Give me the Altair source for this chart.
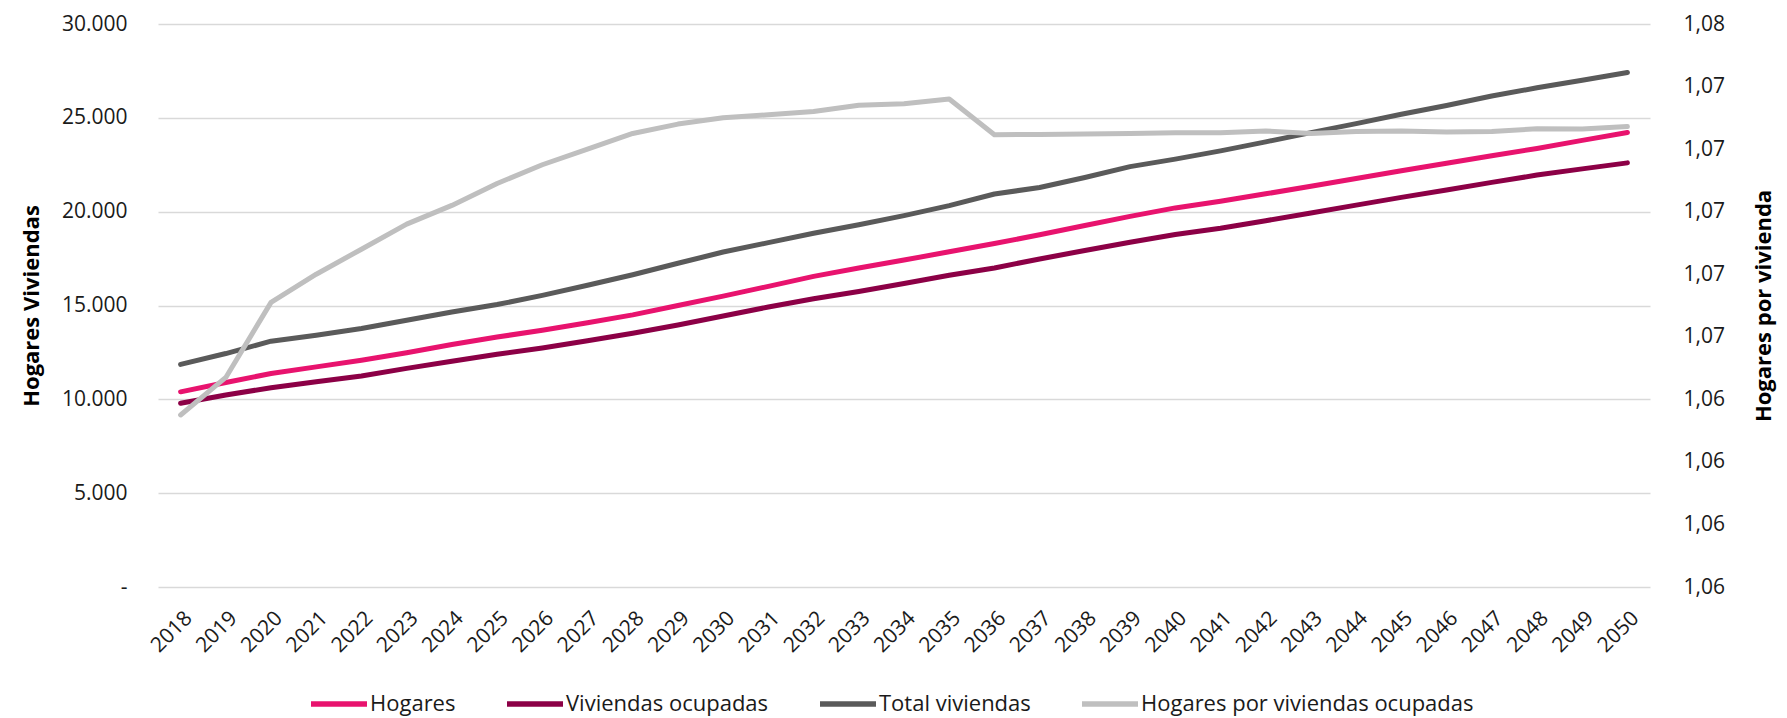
import altair as alt
import pandas as pd

years = ["2018", "2019", "2020", "2021", "2022", "2023", "2024", "2025", "2026", "2027",
         "2028", "2029", "2030", "2031", "2032", "2033", "2034", "2035", "2036", "2037",
         "2038", "2039", "2040", "2041", "2042", "2043", "2044", "2045", "2046", "2047",
         "2048", "2049", "2050"]

hogares = [10400, 10900, 11380, 11730, 12080, 12480, 12920, 13320, 13680, 14080,
           14500, 15000, 15500, 16020, 16550, 17000, 17420, 17860, 18300, 18770,
           19260, 19750, 20200, 20560, 20950, 21350, 21770, 22180, 22580, 22980,
           23370, 23800, 24220]

viviendas_ocupadas = [9790, 10230, 10620, 10940, 11240, 11650, 12030, 12400, 12740, 13120,
                      13520, 13960, 14440, 14920, 15360, 15750, 16170, 16610, 17000, 17480,
                      17930, 18370, 18780, 19120, 19520, 19930, 20350, 20760, 21150, 21560,
                      21950, 22280, 22600]

total_viviendas = [11860, 12440, 13100, 13420, 13770, 14210, 14650, 15050, 15540, 16080,
                   16640, 17250, 17850, 18350, 18850, 19300, 19790, 20320, 20940, 21290,
                   21820, 22400, 22800, 23240, 23720, 24210, 24690, 25190, 25660, 26160,
                   26600, 27000, 27420]

hogares_por_vivienda = [1.0635, 1.0647, 1.0671, 1.0680, 1.0688, 1.0696, 1.0702, 1.0709, 1.0715, 1.0720,
                        1.0725, 1.0728, 1.0730, 1.0731, 1.0732, 1.0734, 1.07345, 1.0736, 1.07246, 1.07247,
                        1.07248, 1.0725, 1.07252, 1.07252, 1.07258, 1.0725, 1.07256, 1.07258, 1.07255, 1.07256,
                        1.07265, 1.07264, 1.07272]

series_names = ["Hogares", "Viviendas ocupadas", "Total viviendas", "Hogares por viviendas ocupadas"]
series_colors = ["#E8136E", "#8C0046", "#5A5A5A", "#BFBFBF"]

left_ticks = [0, 5000, 10000, 15000, 20000, 25000, 30000]
right_ticks = [1.058, 1.060, 1.062, 1.064, 1.066, 1.068, 1.070, 1.072, 1.074, 1.076]

left_df = pd.DataFrame({
    "Año": years,
    "Hogares": hogares,
    "Viviendas ocupadas": viviendas_ocupadas,
    "Total viviendas": total_viviendas,
})
long_df = left_df.melt(id_vars="Año", var_name="Serie", value_name="Valor")
ratio_df = pd.DataFrame({"Año": years, "Serie": "Hogares por viviendas ocupadas",
                         "Ratio": hogares_por_vivienda})

FONT = "Open Sans"
LBL = 21

color = alt.Color(
    "Serie:N",
    scale=alt.Scale(domain=series_names, range=series_colors),
    sort=series_names,
    legend=alt.Legend(
        title=None, orient="none", direction="horizontal",
        legendX=150, legendY=649,
        symbolType="stroke", symbolStrokeWidth=5.5, symbolSize=3136,
        labelFont=FONT, labelFontSize=22, labelColor="#1a1a1a",
        labelOffset=0, columnPadding=40, labelLimit=500, padding=0,
    ),
)

x = alt.X(
    "Año:O", sort=years, title=None,
    axis=alt.Axis(labelAngle=-45, labelFont=FONT, labelFontSize=LBL, labelColor="#1a1a1a",
                  ticks=False, tickSize=0, domain=False, grid=False, labelPadding=20),
)

left = alt.Chart(long_df).mark_line(strokeWidth=5, strokeCap="round", strokeJoin="round").encode(
    x=x,
    y=alt.Y(
        "Valor:Q",
        scale=alt.Scale(domain=[0, 30000], nice=False, zero=True),
        axis=alt.Axis(
            orient="left", values=left_ticks,
            labelExpr="datum.value == 0 ? '-' : replace(format(datum.value, ',.0f'), ',', '.')",
            title="Hogares Viviendas", titleFont=FONT, titleFontSize=22, titleFontWeight="bold",
            titleColor="#000000", titlePadding=18,
            labelFont=FONT, labelFontSize=LBL, labelColor="#1a1a1a", labelPadding=31,
            ticks=False, tickSize=0, domain=False,
            grid=True, gridColor="#D9D9D9", gridWidth=1.6,
        ),
    ),
    color=color,
)

right = alt.Chart(ratio_df).mark_line(strokeWidth=5, strokeCap="round", strokeJoin="round").encode(
    x=x,
    y=alt.Y(
        "Ratio:Q",
        scale=alt.Scale(domain=[1.058, 1.076], nice=False, zero=False),
        axis=alt.Axis(
            orient="right", values=right_ticks,
            labelExpr="replace(format(datum.value, '.2f'), '.', ',')",
            title="Hogares por vivienda", titleFont=FONT, titleFontSize=22, titleFontWeight="bold",
            titleColor="#000000", titlePadding=51, titleAngle=270,
            labelFont=FONT, labelFontSize=LBL, labelColor="#1a1a1a", labelPadding=33,
            ticks=False, tickSize=0, domain=False, grid=False,
        ),
    ),
    color=color,
)

chart = alt.layer(left, right).resolve_scale(y="independent").properties(
    width=1492, height=563,
    autosize=alt.AutoSizeParams(type="none"),
    padding={"left": 150, "top": 16, "right": 129, "bottom": 131},
    background="white",
).configure_view(stroke=None)

chart.save("out.html", embed_options={"renderer": "svg", "actions": False})
